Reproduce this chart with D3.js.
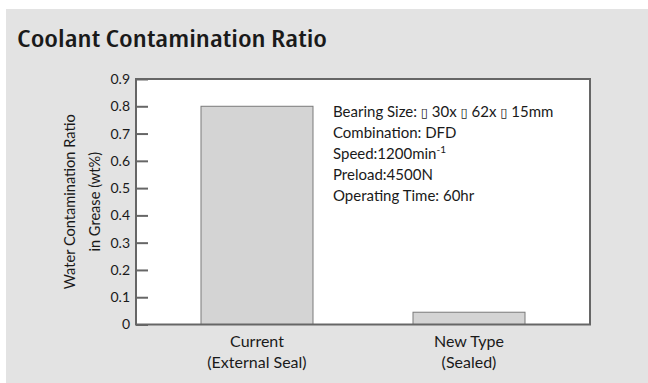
<!DOCTYPE html>
<html>
<head>
<meta charset="utf-8">
<script src="https://cdn.jsdelivr.net/npm/d3@7"></script>
<style>
  html, body { margin: 0; padding: 0; background: #ffffff; }
  svg { display: block; }
  text { font-family: Lato, "Open Sans", sans-serif; fill: #1a1a1a; }
</style>
</head>
<body>
<svg id="chart" width="648" height="383"></svg>
<script>
// Chart data
const categories = [["Current", "(External Seal)"], ["New Type", "(Sealed)"]];
const values = [0.8, 0.045];
const yTicks = [0, 0.1, 0.2, 0.3, 0.4, 0.5, 0.6, 0.7, 0.8, 0.9];
const title = "Coolant Contamination Ratio";
const yTitle = ["Water Contamination Ratio", "in Grease (wt%)"];
const notes = [
  "Bearing Size: \u25AF 30x \u25AF 62x \u25AF 15mm",
  "Combination: DFD",
  "Speed:1200min|-1",
  "Preload:4500N",
  "Operating Time: 60hr"
];

const svg = d3.select("#chart");
const W = 648, H = 383;
const plot = { left: 136, top: 79, right: 590, bottom: 324.5 };

// Panel background
svg.append("rect").attr("x", 6).attr("y", 9).attr("width", W - 6).attr("height", H - 9)
  .attr("fill", "#e3e3e3");

svg.append("text").attr("x", 17).attr("y", 47)
  .style("font-family", "'Open Sans', sans-serif")
  .style("font-size", "23px").style("font-weight", 600).style("font-stretch", "87.5%")
  .attr("textLength", 310).attr("lengthAdjust", "spacingAndGlyphs")
  .text(title);

const x = d3.scaleBand().domain(categories.map((d, i) => i))
  .range([plot.left, plot.right]).paddingInner(0.4717).paddingOuter(0.3066);
const y = d3.scaleLinear().domain([0, 0.9]).range([plot.bottom, plot.top]);

// Plot area
svg.append("rect").attr("x", plot.left).attr("y", plot.top)
  .attr("width", plot.right - plot.left).attr("height", plot.bottom - plot.top)
  .attr("fill", "#ffffff");

// Bars
svg.append("g").selectAll("rect").data(values).join("rect")
  .attr("x", (d, i) => x(i)).attr("width", x.bandwidth())
  .attr("y", d => y(d)).attr("height", d => y(0) - y(d))
  .attr("fill", "#d4d4d4").attr("stroke", "#7a7a7a").attr("stroke-width", 1);

// Border
svg.append("rect").attr("x", plot.left).attr("y", plot.top)
  .attr("width", plot.right - plot.left).attr("height", plot.bottom - plot.top)
  .attr("fill", "none").attr("stroke", "#666666").attr("stroke-width", 2);

// Y axis with inward ticks
const yAxis = d3.axisLeft(y).tickValues(yTicks).tickSize(-12).tickPadding(6)
  .tickFormat(d => d === 0 ? "0" : d3.format(".1f")(d));
const gy = svg.append("g").attr("transform", `translate(${plot.left},0)`).call(yAxis);
gy.select(".domain").remove();
gy.selectAll(".tick line").attr("stroke", "#666666").attr("stroke-width", 2);
gy.selectAll(".tick text").style("font-size", "14px").attr("fill", "#1a1a1a")
  .style("font-family", "Lato, sans-serif");

// Y axis title
const yt = svg.append("text").attr("transform", `translate(0,${(plot.top + plot.bottom) / 2}) rotate(-90)`)
  .attr("text-anchor", "middle").style("font-size", "14.6px");
yTitle.forEach((t, i) => yt.append("tspan").attr("x", 0).attr("y", 75 + i * 24.5).text(t));

// Category labels
const gx = svg.append("g");
categories.forEach((lines, i) => {
  const t = gx.append("text").attr("text-anchor", "middle").style("font-size", "16px");
  lines.forEach((l, j) => t.append("tspan").attr("x", x(i) + x.bandwidth() / 2)
    .attr("y", 347 + j * 21).text(l));
});

// Test conditions (box glyphs drawn narrow, superscript after "|")
const gn = svg.append("g");
notes.forEach((n, i) => {
  const t = gn.append("text").attr("x", 333).attr("y", 117 + i * 21).style("font-size", "15px");
  const [main, sup] = n.split("|");
  main.split(/(\u25AF)/).forEach(seg => {
    if (!seg) return;
    const s = t.append("tspan").text(seg);
    if (seg === "\u25AF") s.style("font-family", "'DejaVu Sans'").style("font-size", "13px");
  });
  if (sup) t.append("tspan").attr("dy", -6).style("font-size", "10px").text(sup);
});
</script>
</body>
</html>
